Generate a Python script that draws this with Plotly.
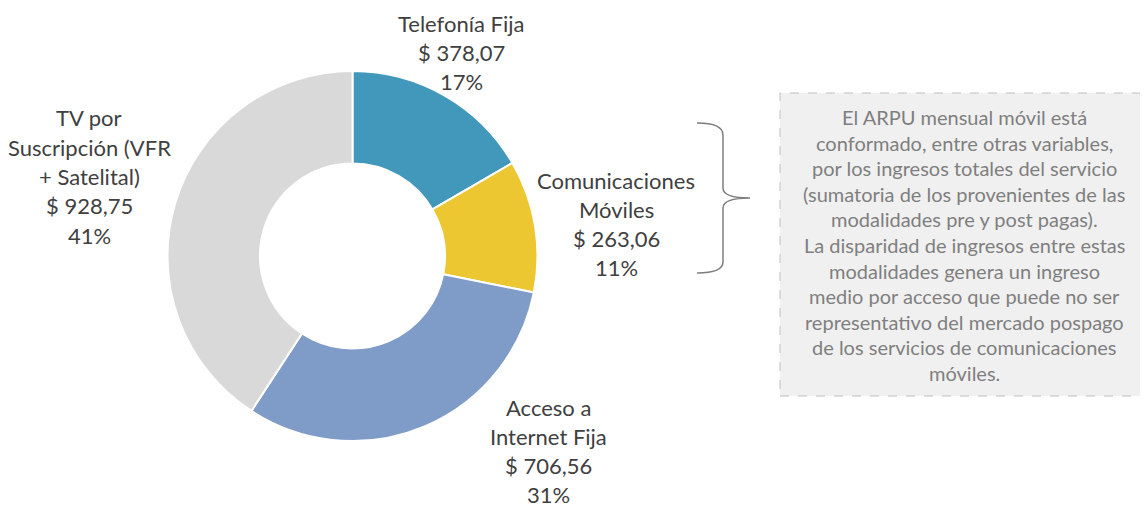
import plotly.graph_objects as go

W, H = 1148, 506
OFF = 8  # page body margin

categories = ["Telefonía Fija", "Comunicaciones Móviles", "Acceso a Internet Fija", "TV por Suscripción (VFR + Satelital)"]
values = [378.07, 263.06, 706.56, 928.75]
value_labels = ["$ 378,07", "$ 263,06", "$ 706,56", "$ 928,75"]
pct_labels = ["17%", "11%", "31%", "41%"]
name_lines = [["Telefonía Fija"], ["Comunicaciones", "Móviles"], ["Acceso a", "Internet Fija"], ["TV por", "Suscripción (VFR", "+ Satelital)"]]
colors = ["#4198BB", "#EDC732", "#7F9BC7", "#D9D9D9"]

note_lines = [
    "El ARPU mensual móvil está",
    "conformado, entre otras variables,",
    "por los ingresos totales del servicio",
    "(sumatoria de los provenientes de las",
    "modalidades pre y post pagas).",
    "La disparidad de ingresos entre estas",
    "modalidades genera un ingreso",
    "medio por acceso que puede no ser",
    "representativo del mercado pospago",
    "de los servicios de comunicaciones",
    "móviles.",
]

def px(x):
    return (x - OFF) / W

def py(y):
    return 1 - (y - OFF) / H

FONT = "Lato"

fig = go.Figure()
fig.add_trace(go.Pie(
    labels=categories,
    values=values,
    hole=0.5,
    sort=False,
    direction="clockwise",
    rotation=0,
    marker=dict(colors=colors, line=dict(color="white", width=2)),
    textinfo="none",
    hoverinfo="label+value+percent",
    domain=dict(x=[px(167), px(538)], y=[py(441), py(71)]),
    showlegend=False,
))

# label anchor (center x, first line center y) in page pixels
label_pos = [(461, 23), (616, 180), (548, 407), (89, 118)]
line_h = 29.3

annotations = []
for i in range(len(categories)):
    lines = name_lines[i] + [value_labels[i], pct_labels[i]]
    cx, y0 = label_pos[i]
    for j, t in enumerate(lines):
        annotations.append(dict(
            x=px(cx), y=py(y0 + j * line_h), xref="paper", yref="paper",
            text=t, showarrow=False, xanchor="center", yanchor="middle",
            font=dict(family=FONT, size=22, color="#404040"),
        ))

note_cx, note_y0, note_h = 964, 117, 25.6
for j, t in enumerate(note_lines):
    annotations.append(dict(
        x=px(note_cx), y=py(note_y0 + j * note_h), xref="paper", yref="paper",
        text=t, showarrow=False, xanchor="center", yanchor="middle",
        font=dict(family=FONT, size=20, color="#7F7F7F"),
    ))

shapes = [
    dict(type="rect", xref="paper", yref="paper",
         x0=px(780), x1=px(1160), y0=py(396), y1=py(93),
         fillcolor="#F0F0F0", line=dict(color="#BFBFBF", width=1, dash="dash"), layer="below"),
]

def P(x, y):
    return f"{px(x):.5f},{py(y):.5f}"

brace = (f"M {P(697,123)} Q {P(723,123)} {P(723,135)} L {P(723,188)} "
         f"Q {P(723,198)} {P(750,198)} Q {P(723,198)} {P(723,208)} "
         f"L {P(723,262)} Q {P(723,273)} {P(697,273)}")
shapes.append(dict(type="path", xref="paper", yref="paper", path=brace,
                   line=dict(color="#7F7F7F", width=1.5)))

fig.update_layout(
    width=W, height=H,
    margin=dict(l=0, r=0, t=0, b=0),
    paper_bgcolor="white", plot_bgcolor="white",
    annotations=annotations, shapes=shapes,
)

fig.write_html("out.html")
